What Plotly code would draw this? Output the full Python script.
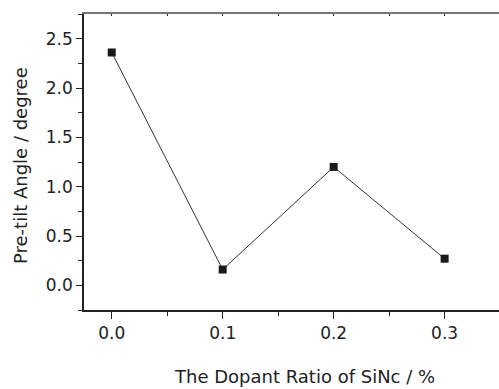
import plotly.graph_objects as go

dopant_ratio = [0.0, 0.1, 0.2, 0.3]
pretilt_angle = [2.36, 0.16, 1.20, 0.27]

x_title = "The Dopant Ratio of SiNc / %"
y_title = "Pre-tilt Angle / degree"

FONT = "DejaVu Sans"
TXT = "#222222"

fig = go.Figure()
fig.add_trace(go.Scatter(
    x=dopant_ratio, y=pretilt_angle, mode="lines+markers",
    line=dict(color="#333333", width=1),
    marker=dict(symbol="square", size=8, color="#1a1a1a"),
    showlegend=False, cliponaxis=False,
))
# invisible trace for top axis
fig.add_trace(go.Scatter(x=dopant_ratio, y=pretilt_angle, xaxis="x2",
                         mode="markers", marker=dict(opacity=0),
                         showlegend=False, hoverinfo="skip"))

fig.update_layout(
    width=499, height=389,
    margin=dict(l=84, r=0, t=14, b=79),
    paper_bgcolor="white", plot_bgcolor="white",
    font=dict(family=FONT, size=17, color=TXT),
    xaxis=dict(
        range=[-0.025, 0.349], tickmode="linear", tick0=0, dtick=0.1,
        tickformat=".1f", ticks="outside", ticklen=7, tickwidth=1,
        tickcolor="#222", showline=True, linecolor="#222", linewidth=1.5,
        showgrid=False, zeroline=False,
        minor=dict(tickmode="linear", tick0=0, dtick=0.05, ticks="outside",
                   ticklen=4, tickcolor="#222", showgrid=False),
        tickfont=dict(family=FONT, size=17, color=TXT),
    ),
    xaxis2=dict(
        overlaying="x", side="top", range=[-0.025, 0.349],
        tickmode="linear", tick0=0, dtick=0.05, ticks="inside", ticklen=2,
        tickcolor="#222", showticklabels=False, showline=True,
        linecolor="#777", linewidth=1.5, showgrid=False, zeroline=False,
    ),
    yaxis=dict(
        range=[-0.25, 2.75], tickmode="linear", tick0=0, dtick=0.5,
        tickformat=".1f", ticks="outside", ticklen=6, tickwidth=1,
        tickcolor="#222", showline=True, linecolor="#222", linewidth=1.5,
        showgrid=False, zeroline=False,
        minor=dict(tickmode="linear", tick0=0, dtick=0.25, ticks="outside",
                   ticklen=4, tickcolor="#222", showgrid=False),
        tickfont=dict(family=FONT, size=17, color=TXT),
    ),
    annotations=[
        dict(text=x_title, xref="paper", yref="paper",
             x=(304 - 84) / 415, y=-(376 - 310) / 296,
             xanchor="center", yanchor="middle", showarrow=False,
             font=dict(family=FONT, size=18, color=TXT)),
        dict(text=y_title, xref="paper", yref="paper",
             x=(20 - 84) / 415, y=(310 - 166) / 296, textangle=-90,
             xanchor="center", yanchor="middle", showarrow=False,
             font=dict(family=FONT, size=18, color=TXT)),
    ],
)

fig.write_html(
    "out.html",
    config={"displayModeBar": False},
    post_script="document.body.style.margin='0px';document.body.style.overflow='hidden';",
)
